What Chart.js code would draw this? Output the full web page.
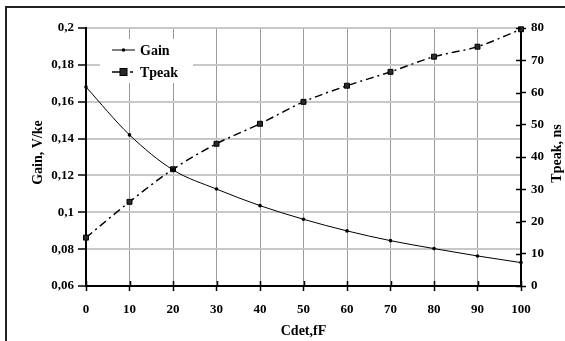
<!DOCTYPE html>
<html>
<head>
<meta charset="utf-8">
<script src="https://cdn.jsdelivr.net/npm/chart.js@4/dist/chart.umd.min.js"></script>
<style>
  html, body { margin: 0; padding: 0; background: #fff; }
  #wrap { width: 565px; height: 341px; }
</style>
</head>
<body>
<div id="wrap"><canvas id="c" width="565" height="341"></canvas></div>
<script>
// Detector capacitance sweep, fF
const cdet = [0, 10, 20, 30, 40, 50, 60, 70, 80, 90, 100];
// Amplifier gain, V/keV (left axis)
const gain = [0.168, 0.142, 0.123, 0.1126, 0.1036, 0.0962, 0.0899, 0.0846, 0.0803, 0.0763, 0.0727];
// Peaking time, ns (right axis)
const tpeak = [15.0, 26.1, 36.2, 44.1, 50.3, 57.1, 62.1, 66.4, 71.1, 74.2, 79.6];

// Left-axis tick labels use a decimal comma
const gainTickLabels = ['0,06', '0,08', '0,1', '0,12', '0,14', '0,16', '0,18', '0,2'];

const FONT = 'Liberation Serif, Times New Roman, serif';

const seriesStyles = [
  { label: 'Gain', dash: [], width: 1, point: 'circle', radius: 1.8, fill: '#000' },
  { label: 'Tpeak', dash: [8, 4, 2, 4], width: 1.5, point: 'rect', radius: 3.5, fill: '#2a2a2a' }
];

// Outer frame, inner tick halves, axis titles and legend box
const decorations = {
  id: 'decorations',
  beforeDraw(chart) {
    const ctx = chart.ctx;
    ctx.save();
    ctx.fillStyle = '#fff';
    ctx.fillRect(0, 0, chart.width, chart.height);
    ctx.strokeStyle = '#222';
    ctx.lineWidth = 2;
    ctx.beginPath();
    ctx.moveTo(6, chart.height + 2);
    ctx.lineTo(6, 7);
    ctx.lineTo(chart.width + 2, 7);
    ctx.stroke();
    ctx.restore();
  },
  afterDraw(chart) {
    const ctx = chart.ctx;
    const area = chart.chartArea;
    const xs = chart.scales.x, y1 = chart.scales.y1;
    ctx.save();
    ctx.strokeStyle = '#000';
    ctx.lineWidth = 1.5;
    ctx.beginPath();
    xs.ticks.forEach(t => {
      const px = Math.round(xs.getPixelForValue(t.value)) + 0.5;
      ctx.moveTo(px, area.bottom - 5);
      ctx.lineTo(px, area.bottom);
    });
    y1.ticks.forEach(t => {
      const py = Math.round(y1.getPixelForValue(t.value)) + 0.5;
      ctx.moveTo(area.right - 5, py);
      ctx.lineTo(area.right, py);
    });
    ctx.stroke();

    // Axis titles
    ctx.fillStyle = '#000';
    ctx.font = 'bold 14px ' + FONT;
    ctx.textAlign = 'center';
    ctx.textBaseline = 'alphabetic';
    ctx.fillText('Cdet,fF', (area.left + area.right) / 2, 335);

    ctx.save();
    ctx.translate(42, 152.5);
    ctx.rotate(-Math.PI / 2);
    ctx.fillText('Gain, V/ke', 0, 0);
    ctx.restore();

    ctx.save();
    ctx.translate(561, 153.5);
    ctx.rotate(-Math.PI / 2);
    ctx.fillText('Tpeak, ns', 0, 0);
    ctx.restore();

    // Legend
    ctx.fillStyle = '#fff';
    ctx.fillRect(100, 39, 93, 44);
    const rows = [50, 72];
    chart.data.datasets.forEach((ds, i) => {
      const st = seriesStyles[i];
      const y = rows[i];
      ctx.strokeStyle = '#000';
      ctx.lineWidth = st.width;
      ctx.setLineDash(st.dash);
      ctx.beginPath();
      ctx.moveTo(112, y);
      ctx.lineTo(i === 0 ? 135 : 133, y);
      ctx.stroke();
      ctx.setLineDash([]);
      ctx.fillStyle = st.fill;
      if (st.point === 'circle') {
        ctx.beginPath();
        ctx.arc(123.5, y, st.radius, 0, Math.PI * 2);
        ctx.fill();
      } else {
        ctx.fillRect(123.5 - st.radius, y - st.radius, st.radius * 2, st.radius * 2);
        ctx.lineWidth = 1;
        ctx.strokeRect(123.5 - st.radius, y - st.radius, st.radius * 2, st.radius * 2);
      }
      ctx.fillStyle = '#000';
      ctx.font = 'bold 14px ' + FONT;
      ctx.textAlign = 'left';
      ctx.textBaseline = 'middle';
      ctx.fillText(ds.label, 140, y + 1);
    });
    ctx.restore();
  }
};

new Chart(document.getElementById('c'), {
  type: 'line',
  data: {
    datasets: [
      {
        label: seriesStyles[0].label,
        data: cdet.map((x, i) => ({ x, y: gain[i] })),
        yAxisID: 'y',
        borderColor: '#000',
        borderWidth: seriesStyles[0].width,
        pointStyle: seriesStyles[0].point,
        pointRadius: seriesStyles[0].radius,
        pointBackgroundColor: seriesStyles[0].fill,
        pointBorderWidth: 0,
        cubicInterpolationMode: 'monotone',
        clip: false
      },
      {
        label: seriesStyles[1].label,
        data: cdet.map((x, i) => ({ x, y: tpeak[i] })),
        yAxisID: 'y1',
        borderColor: '#000',
        borderWidth: seriesStyles[1].width,
        borderDash: seriesStyles[1].dash,
        pointStyle: seriesStyles[1].point,
        pointRadius: seriesStyles[1].radius,
        pointBackgroundColor: seriesStyles[1].fill,
        pointBorderColor: '#000',
        pointBorderWidth: 1,
        cubicInterpolationMode: 'monotone',
        clip: false
      }
    ]
  },
  options: {
    responsive: false,
    animation: false,
    layout: { padding: { top: 28, left: 0, right: 0, bottom: 0 } },
    plugins: { legend: { display: false }, tooltip: { enabled: false } },
    scales: {
      x: {
        type: 'linear',
        min: 0, max: 100,
        afterFit(s) { s.height = 55; },
        ticks: {
          stepSize: 10,
          padding: 11,
          color: '#000',
          font: { family: FONT, size: 13, weight: 'bold' }
        },
        grid: { color: '#9a9a9a', lineWidth: 1, tickLength: 5, tickColor: '#000', tickWidth: 1.5 },
        border: { color: '#000', width: 2 }
      },
      y: {
        position: 'left',
        min: 0.06, max: 0.2,
        afterFit(s) { s.width = 86; },
        afterBuildTicks(s) {
          s.ticks = gainTickLabels.map((_, i) => ({ value: 0.06 + i * 0.02 }));
        },
        ticks: {
          padding: 4,
          color: '#000',
          font: { family: FONT, size: 13, weight: 'bold' },
          callback: (v, i) => gainTickLabels[i]
        },
        grid: { color: '#c8c8c8', lineWidth: 2, tickLength: 8, tickColor: '#000', tickWidth: 1.5 },
        border: { color: '#000', width: 2 }
      },
      y1: {
        position: 'right',
        min: 0, max: 80,
        afterFit(s) { s.width = 44; },
        ticks: {
          stepSize: 10,
          padding: 5,
          color: '#000',
          font: { family: FONT, size: 13, weight: 'bold' }
        },
        grid: { drawOnChartArea: false, tickLength: 5, tickColor: '#000', tickWidth: 1.5 },
        border: { color: '#000', width: 2 }
      }
    }
  },
  plugins: [decorations]
});
</script>
</body>
</html>
